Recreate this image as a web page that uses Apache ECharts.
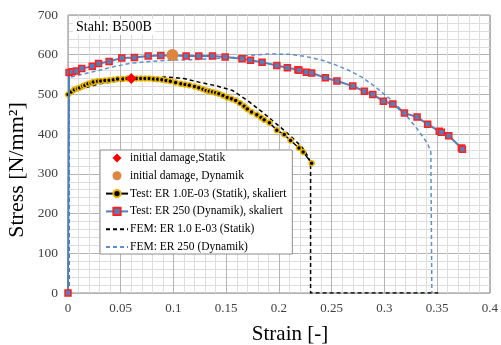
<!DOCTYPE html>
<html>
<head>
<meta charset="utf-8">
<script src="https://cdn.jsdelivr.net/npm/echarts@6/dist/echarts.min.js"></script>
<style>
  html, body { margin: 0; padding: 0; background: #fff; }
  #chart { width: 501px; height: 345px; }
</style>
</head>
<body>
<div id="chart"></div>
<script>
// Strain [-], stress [N/mm²] pairs
const testStatik = [
  [0, 500], [0.003, 506], [0.006, 512], [0.009, 515], [0.011, 517], [0.014, 521], [0.016, 523],
  [0.019, 527], [0.022, 529], [0.024, 531], [0.028, 533], [0.031, 534], [0.035, 535], [0.039, 536],
  [0.043, 537], [0.047, 539], [0.052, 539], [0.056, 540], [0.065, 540], [0.069, 540], [0.073, 540],
  [0.077, 540], [0.081, 539], [0.085, 538], [0.089, 537], [0.093, 535], [0.097, 533], [0.102, 530],
  [0.107, 527], [0.111, 525], [0.115, 523], [0.12, 520], [0.124, 517], [0.128, 513], [0.131, 510],
  [0.134, 508], [0.137, 506], [0.14, 504], [0.143, 502], [0.147, 497], [0.151, 492], [0.155, 489],
  [0.159, 485], [0.163, 478], [0.167, 470], [0.17, 463], [0.174, 456], [0.179, 449], [0.183, 442],
  [0.186, 436], [0.191, 429], [0.198, 410], [0.205, 399], [0.211, 384], [0.219, 365], [0.223, 355],
  [0.231, 327]
];

const testDynamik = [
  [0, 0], [0.001, 555], [0.004, 557], [0.008, 559], [0.013, 565], [0.023, 571], [0.029, 578],
  [0.039, 583], [0.051, 592], [0.063, 593], [0.076, 597], [0.088, 598], [0.1, 598], [0.112, 597],
  [0.124, 597], [0.137, 597], [0.149, 594], [0.165, 590], [0.173, 586], [0.184, 581], [0.198, 573],
  [0.208, 567], [0.218, 562], [0.219, 561], [0.226, 556], [0.231, 554], [0.244, 542], [0.255, 534],
  [0.27, 521], [0.281, 508], [0.289, 500], [0.299, 483], [0.308, 476], [0.319, 453], [0.331, 443],
  [0.341, 425], [0.352, 407], [0.354, 405], [0.361, 396], [0.373, 365], [0.374, 362]
];

const femStatik = [
  [0.001, 0], [0.001, 500], [0.005, 508], [0.014, 515], [0.03, 527], [0.046, 533], [0.068, 539],
  [0.093, 544], [0.11, 540], [0.124, 531], [0.14, 522], [0.156, 510], [0.171, 483], [0.184, 456],
  [0.193, 436], [0.203, 414], [0.212, 393], [0.222, 367], [0.228, 342], [0.23, 326], [0.23, 0],
  [0.351, 0]
];

const femDynamik = [
  [0.001, 0], [0.001, 540], [0.003, 544], [0.014, 551], [0.03, 561], [0.045, 571], [0.061, 579],
  [0.077, 583], [0.093, 586], [0.124, 588], [0.156, 593], [0.171, 598], [0.19, 602], [0.21, 601],
  [0.219, 598], [0.23, 593], [0.241, 586], [0.253, 575], [0.266, 561], [0.279, 543], [0.291, 520],
  [0.307, 485], [0.319, 453], [0.332, 410], [0.341, 376], [0.344, 355], [0.345, 0]
];

const damageStatik = [[0.06, 540]];
const damageDynamik = [[0.099, 599]];

const seriesNames = [
  'initial damage,Statik',
  'initial damage, Dynamik',
  'Test: ER 1.0E-03 (Statik), skaliert',
  'Test: ER 250 (Dynamik), skaliert',
  'FEM: ER 1.0 E-03 (Statik)',
  'FEM: ER 250 (Dynamik)'
];

const xTicks = { min: 0, max: 0.4, step: 0.05 };
const yTicks = { min: 0, max: 700, step: 100 };

const serif = '"Liberation Serif", "Times New Roman", serif';
const blue = '#4f81bd';
const blueDash = '#5b8fd0';
const noMarker = { color: 'rgba(0,0,0,0)', borderWidth: 0 };
const diamondIcon = 'path://M5,0L10,5L5,10L0,5Z';

const chart = echarts.init(document.getElementById('chart'), null, { renderer: 'canvas' });

chart.setOption({
  animation: false,
  backgroundColor: '#fff',
  textStyle: { fontFamily: serif },
  grid: {
    left: 68, right: 9, top: 15, bottom: 52,
    show: true, borderColor: '#8c8c8c', borderWidth: 1
  },
  xAxis: {
    type: 'value',
    min: xTicks.min, max: xTicks.max, interval: xTicks.step,
    axisLine: { show: false },
    axisTick: { show: false },
    axisLabel: { fontFamily: serif, fontSize: 13, color: '#404040', margin: 9 },
    splitLine: { show: true, lineStyle: { color: '#b3b3b3', width: 1 } },
    minorTick: { show: false, splitNumber: 5 },
    minorSplitLine: { show: true, lineStyle: { color: '#dedede', width: 1 } }
  },
  yAxis: {
    type: 'value',
    min: yTicks.min, max: yTicks.max, interval: yTicks.step,
    axisLine: { show: false },
    axisTick: { show: false },
    axisLabel: { fontFamily: serif, fontSize: 13.5, color: '#404040', margin: 10 },
    splitLine: { show: true, lineStyle: { color: '#b3b3b3', width: 1 } },
    minorTick: { show: false, splitNumber: 5 },
    minorSplitLine: { show: true, lineStyle: { color: '#dedede', width: 1 } }
  },
  legend: {
    orient: 'vertical',
    left: 100, top: 150,
    backgroundColor: '#fff',
    borderColor: '#8c8c8c',
    borderWidth: 1,
    borderRadius: 0,
    padding: [2, 6, 1, 5],
    itemGap: 5.8,
    itemWidth: 22,
    itemHeight: 9,
    symbolKeepAspect: true,
    textStyle: { fontFamily: serif, fontSize: 11.5, color: '#000', padding: [0, 0, 0, -3] },
    data: [
      { name: seriesNames[0], icon: diamondIcon },
      { name: seriesNames[1], icon: 'circle' },
      seriesNames[2],
      seriesNames[3],
      { name: seriesNames[4], itemStyle: noMarker },
      { name: seriesNames[5], itemStyle: noMarker }
    ]
  },
  graphic: [
    {
      type: 'text',
      left: 73, top: 19,
      z: 10,
      style: {
        text: 'Stahl: B500B',
        font: '14px ' + serif,
        fill: '#000',
        backgroundColor: '#fff',
        padding: [1, 3, 1, 3]
      }
    },
    {
      type: 'text',
      x: 17, y: 170,
      rotation: Math.PI / 2,
      style: {
        text: 'Stress [N/mm²]',
        font: '22px ' + serif,
        fill: '#000',
        align: 'center',
        verticalAlign: 'middle'
      }
    },
    {
      type: 'text',
      x: 290, y: 334,
      style: {
        text: 'Strain [-]',
        font: '21px ' + serif,
        fill: '#000',
        align: 'center',
        verticalAlign: 'middle'
      }
    }
  ],
  series: [
    {
      name: seriesNames[4],
      type: 'line',
      data: femStatik,
      showSymbol: false,
      symbol: 'none',
      lineStyle: { color: '#000', width: 1.5, type: [4, 3] },
      itemStyle: { color: '#000' },
      z: 2
    },
    {
      name: seriesNames[5],
      type: 'line',
      data: femDynamik,
      showSymbol: false,
      symbol: 'none',
      lineStyle: { color: blueDash, width: 1.5, type: [4, 3] },
      itemStyle: { color: blueDash },
      z: 2
    },
    {
      name: seriesNames[2],
      type: 'line',
      data: testStatik,
      symbol: 'circle',
      symbolSize: 5,
      lineStyle: { color: '#000', width: 1.5 },
      itemStyle: { color: '#000', borderColor: '#e8b400', borderWidth: 1.5 },
      z: 3
    },
    {
      name: seriesNames[3],
      type: 'line',
      data: testDynamik,
      symbol: 'rect',
      symbolSize: 6,
      lineStyle: { color: blue, width: 2 },
      itemStyle: { color: blue, borderColor: '#ff2020', borderWidth: 1.5 },
      z: 4
    },
    {
      name: seriesNames[0],
      type: 'scatter',
      data: damageStatik,
      symbol: 'diamond',
      symbolSize: 11,
      itemStyle: { color: '#ff0000', opacity: 1 },
      z: 6
    },
    {
      name: seriesNames[1],
      type: 'scatter',
      data: damageDynamik,
      symbol: 'circle',
      symbolSize: 12,
      itemStyle: { color: '#dd8640', opacity: 1 },
      z: 6
    }
  ]
});
</script>
</body>
</html>
